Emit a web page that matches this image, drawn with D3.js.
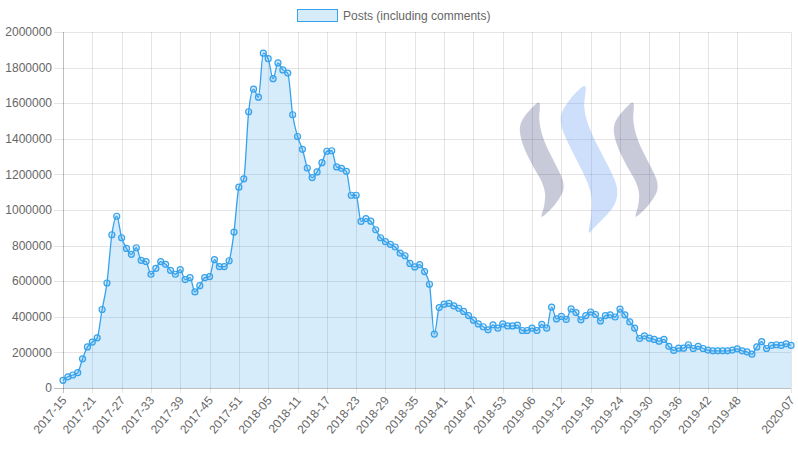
<!DOCTYPE html>
<html>
<head>
<meta charset="utf-8">
<script src="https://cdn.jsdelivr.net/npm/d3@7"></script>
<style>
  html, body { margin: 0; padding: 0; background: #fff; }
  svg { display: block; font-family: "Liberation Sans", Arial, Helvetica, sans-serif; }
</style>
</head>
<body>
<svg id="chart" width="798" height="450"></svg>
<script>
// ---- data ----
const weekLabels = [
  "2017-15","2017-16","2017-17","2017-18","2017-19","2017-20","2017-21","2017-22","2017-23","2017-24",
  "2017-25","2017-26","2017-27","2017-28","2017-29","2017-30","2017-31","2017-32","2017-33","2017-34",
  "2017-35","2017-36","2017-37","2017-38","2017-39","2017-40","2017-41","2017-42","2017-43","2017-44",
  "2017-45","2017-46","2017-47","2017-48","2017-49","2017-50","2017-51","2017-52",
  "2018-01","2018-02","2018-03","2018-04","2018-05","2018-06","2018-07","2018-08","2018-09","2018-10",
  "2018-11","2018-12","2018-13","2018-14","2018-15","2018-16","2018-17","2018-18","2018-19","2018-20",
  "2018-21","2018-22","2018-23","2018-24","2018-25","2018-26","2018-27","2018-28","2018-29","2018-30",
  "2018-31","2018-32","2018-33","2018-34","2018-35","2018-36","2018-37","2018-38","2018-39","2018-40",
  "2018-41","2018-42","2018-43","2018-44","2018-45","2018-46","2018-47","2018-48","2018-49","2018-50",
  "2018-51","2018-52","2018-53",
  "2019-01","2019-02","2019-03","2019-04","2019-05","2019-06","2019-07","2019-08","2019-09","2019-10",
  "2019-11","2019-12","2019-13","2019-14","2019-15","2019-16","2019-17","2019-18","2019-19","2019-20",
  "2019-21","2019-22","2019-23","2019-24","2019-25","2019-26","2019-27","2019-28","2019-29","2019-30",
  "2019-31","2019-32","2019-33","2019-34","2019-35","2019-36","2019-37","2019-38","2019-39","2019-40",
  "2019-41","2019-42","2019-43","2019-44","2019-45","2019-46","2019-47","2019-48","2019-49","2019-50",
  "2019-51","2019-52",
  "2020-01","2020-02","2020-03","2020-04","2020-05","2020-06","2020-07"
];

const posts = [
  43000, 63000, 73000, 86000, 164000, 231000, 258000, 282000, 441000, 590000,
  861000, 965000, 844000, 784000, 751000, 788000, 717000, 710000, 639000, 672000,
  710000, 695000, 661000, 639000, 665000, 609000, 620000, 540000, 575000, 620000,
  626000, 721000, 682000, 682000, 715000, 876000, 1128000, 1175000,
  1552000, 1679000, 1634000, 1881000, 1850000, 1738000, 1826000, 1787000, 1769000, 1535000,
  1413000, 1341000, 1236000, 1182000, 1214000, 1266000, 1330000, 1333000, 1242000, 1234000,
  1217000, 1083000, 1083000, 936000, 952000, 937000, 889000, 844000, 822000, 807000,
  792000, 758000, 743000, 700000, 680000, 693000, 654000, 583000, 303000, 452000,
  471000, 475000, 461000, 448000, 430000, 407000, 381000, 360000, 344000, 327000,
  355000, 336000, 360000,
  349000, 349000, 353000, 323000, 323000, 336000, 323000, 357000, 336000, 454000,
  388000, 402000, 385000, 444000, 424000, 383000, 407000, 427000, 413000, 377000,
  407000, 411000, 399000, 443000, 411000, 371000, 336000, 278000, 293000, 280000,
  273000, 263000, 273000, 234000, 211000, 224000, 224000, 243000, 222000, 234000,
  222000, 213000, 209000, 209000, 209000, 209000, 213000, 220000, 209000, 203000,
  190000, 231000,
  261000, 222000, 239000, 243000, 239000, 248000, 239000
];

const yTicks = [0, 200000, 400000, 600000, 800000, 1000000, 1200000, 1400000, 1600000, 1800000, 2000000];
const seriesName = "Posts (including comments)";

// ---- layout ----
const svg = d3.select("#chart");
const pL = 63, pR = 791, pT = 32, pB = 388;
const lineColor = "rgb(54,162,235)";
const fillColor = "rgba(54,162,235,0.2)";

const x = d3.scalePoint().domain(weekLabels).range([pL, pR]);
const y = d3.scaleLinear().domain([0, 2000000]).range([pB, pT]);

// shown x ticks: every 6th + last
const shownX = weekLabels.filter((d, i) => i % 6 === 0 && i < weekLabels.length - 8);
shownX.push(weekLabels[weekLabels.length - 1]);

// ---- grid ----
const grid = svg.append("g");
grid.selectAll("line.h").data(yTicks).enter().append("line")
  .attr("x1", pL - 9).attr("x2", pR)
  .attr("y1", d => Math.round(y(d)) + 0.5).attr("y2", d => Math.round(y(d)) + 0.5)
  .attr("stroke", d => d === 0 ? "rgba(0,0,0,0.25)" : "rgba(0,0,0,0.1)")
  .attr("stroke-width", 1);
grid.selectAll("line.v").data(shownX).enter().append("line")
  .attr("x1", d => Math.round(x(d)) + 0.5).attr("x2", d => Math.round(x(d)) + 0.5)
  .attr("y1", pT).attr("y2", pB + 5)
  .attr("stroke", (d, i) => i === 0 ? "rgba(0,0,0,0.25)" : "rgba(0,0,0,0.1)")
  .attr("stroke-width", 1);

// ---- logo watermark ----
const logoLine = d3.line().curve(d3.curveCatmullRomClosed.alpha(0.5));
const sideShape = [
  [539,102.7],[530,110],[523.3,118.3],[520,126.7],[520.7,136.7],[525,150],[533.3,166.7],[541.7,181.7],
  [545,193.3],[544.3,205],[541.7,216.7],
  [550,210],[558.3,200],[563.3,190],[562.7,180],[556.7,166.7],[546.7,146.7],[541.7,133.3],[539.3,120]
];
const midShape = [
  [585,86],[576.7,91.7],[568.3,101.7],[562.3,111.7],[560.7,118.3],[561.7,126.7],[566.7,140],[575,156.7],
  [583.3,173.3],[589,186.7],[591.7,200],[591,216.7],[589,232.7],
  [595,226.7],[605,216.7],[613.3,206.7],[617,196.7],[616.7,186.7],[611.7,173.3],[603.3,156.7],
  [593.3,136.7],[586.7,120],[584.3,106.7]
];
const logo = svg.append("g");
logo.append("path").attr("d", logoLine(sideShape)).attr("fill", "#1c2262").attr("opacity", 0.24);
logo.append("path").attr("d", logoLine(sideShape)).attr("transform", "translate(94,0)").attr("fill", "#1c2262").attr("opacity", 0.24);
logo.append("path").attr("d", logoLine(midShape)).attr("fill", "#4a8af0").attr("opacity", 0.27);

// ---- area + line ----
const data = weekLabels.map((w, i) => ({ w, v: posts[i] }));
const curve = d3.curveMonotoneX;
svg.append("path").datum(data)
  .attr("d", d3.area().x(d => x(d.w)).y0(pB).y1(d => y(d.v)).curve(curve))
  .attr("fill", fillColor);
svg.append("path").datum(data)
  .attr("d", d3.line().x(d => x(d.w)).y(d => y(d.v)).curve(curve))
  .attr("fill", "none").attr("stroke", lineColor).attr("stroke-width", 1.3);
svg.append("g").selectAll("circle").data(data).enter().append("circle")
  .attr("cx", d => x(d.w)).attr("cy", d => y(d.v)).attr("r", 3)
  .attr("fill", fillColor).attr("stroke", lineColor).attr("stroke-width", 1.2);

// ---- axes text ----
svg.append("g").selectAll("text").data(yTicks).enter().append("text")
  .attr("x", 52).attr("y", d => y(d))
  .attr("dy", "0.35em").attr("text-anchor", "end")
  .attr("font-size", 12).attr("fill", "#666")
  .text(d => d3.format("d")(d));

svg.append("g").selectAll("text").data(shownX).enter().append("text")
  .attr("transform", d => `translate(${x(d) + 1},${pB + 10}) rotate(-50)`)
  .attr("dy", "0.35em").attr("text-anchor", "end")
  .attr("font-size", 12).attr("fill", "#666")
  .text(d => d);

// ---- legend ----
const lg = svg.append("g");
lg.append("rect").attr("x", 297.5).attr("y", 9.5).attr("width", 40).attr("height", 12)
  .attr("fill", fillColor).attr("stroke", lineColor).attr("stroke-width", 1);
lg.append("text").attr("x", 343).attr("y", 15.5).attr("dy", "0.35em")
  .attr("font-size", 12).attr("fill", "#666").text(seriesName);
</script>
</body>
</html>
